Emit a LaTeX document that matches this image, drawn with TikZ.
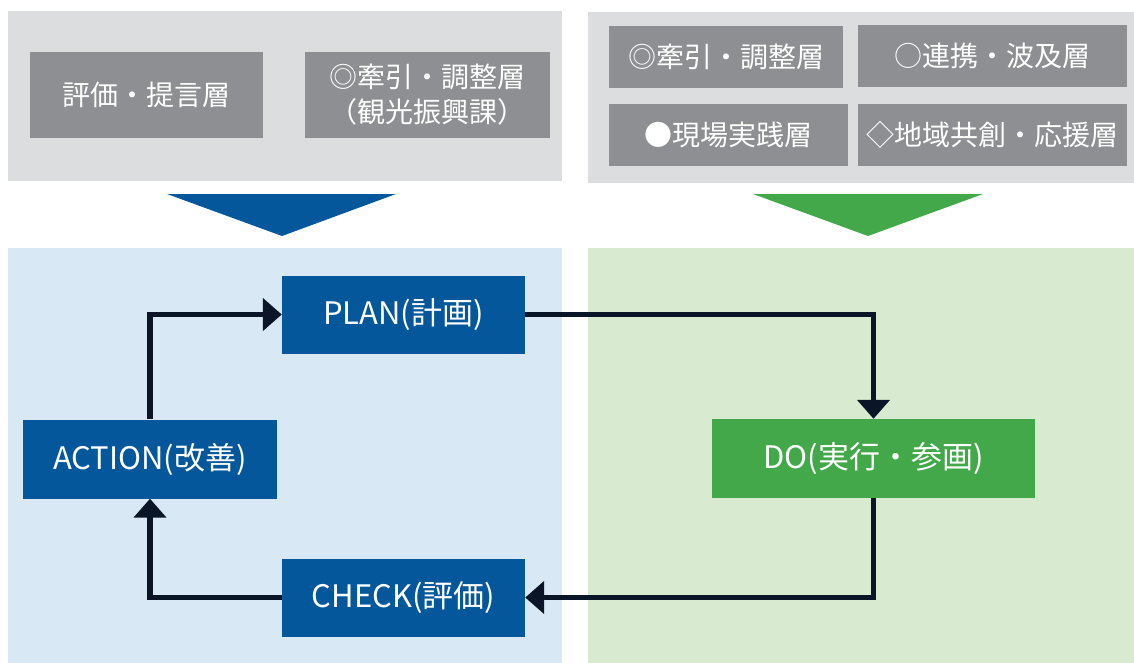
\documentclass[tikz,border=0pt]{standalone}
\usepackage{fontspec}
\setmainfont{Noto Sans CJK JP}
\usetikzlibrary{arrows.meta}
\definecolor{panelgray}{HTML}{DCDDDF}
\definecolor{boxgray}{HTML}{8E8F93}
\definecolor{pdcablue}{HTML}{03579A}
\definecolor{lightblue}{HTML}{D9E8F5}
\definecolor{pdcagreen}{HTML}{43A84A}
\definecolor{lightgreen}{HTML}{D8EACF}
\definecolor{linecol}{HTML}{0A1628}
\tikzset{
  graybox/.style={fill=boxgray, text=white, inner sep=0pt, align=center,
    font=\fontsize{28}{35}\selectfont},
  bluebox/.style={fill=pdcablue, text=white, inner sep=0pt,
    font=\fontsize{31}{36}\selectfont},
  greenbox/.style={fill=pdcagreen, text=white, inner sep=0pt,
    font=\fontsize{31}{36}\selectfont},
  flow/.style={draw=linecol, line width=5.5pt,
    -{Triangle[length=19pt,width=32pt]}}
}
\begin{document}
\begin{tikzpicture}[x=1pt,y=-1pt]
\useasboundingbox (0,0) rectangle (1134,663);
% panels
\fill[panelgray] (8,11) rectangle (562,181);
\fill[panelgray] (588,12) rectangle (1134,183);
\fill[lightblue] (8,248) rectangle (562,663);
\fill[lightgreen] (588,248) rectangle (1134,663);
% triangles
\fill[pdcablue] (167,194) -- (396,194) -- (282,236) -- cycle;
\fill[pdcagreen] (753,194) -- (983,194) -- (868,236) -- cycle;
% top-left boxes
\node[graybox, minimum width=233pt, minimum height=86pt] (hyoka) at (146.5,95) {評価・提言層};
\node[graybox, minimum width=245pt, minimum height=86pt] (kenin1) at (427.5,95) {◎牽引・調整層\\（観光振興課）};
% top-right boxes
\node[graybox, minimum width=234pt, minimum height=62pt] (kenin2) at (726,57) {◎牽引・調整層};
\node[graybox, minimum width=269pt, minimum height=62pt] (renkei) at (992.5,56) {○連携・波及層};
\node[graybox, minimum width=239pt, minimum height=62pt] (genba) at (728.5,135) {●現場実践層};
\node[graybox, minimum width=269pt, minimum height=62pt] (chiiki) at (992.5,135) {◇地域共創・応援層};
% PDCA boxes
\node[bluebox, minimum width=243pt, minimum height=78pt] (plan) at (403.5,314.5) {PLAN(計画)};
\node[bluebox, minimum width=254pt, minimum height=79pt] (action) at (150,459) {ACTION(改善)};
\node[bluebox, minimum width=243pt, minimum height=78pt] (check) at (403.5,597.5) {CHECK(評価)};
\node[greenbox, minimum width=323pt, minimum height=79pt] (do) at (873.5,458.5) {DO(実行・参画)};
% connectors
\draw[flow] (plan.east) -| (do.north);
\draw[flow] (do.south) |- (check.east);
\draw[flow] (check.west) -| (action.south);
\draw[flow] (action.north) |- (plan.west);
\end{tikzpicture}
\end{document}
